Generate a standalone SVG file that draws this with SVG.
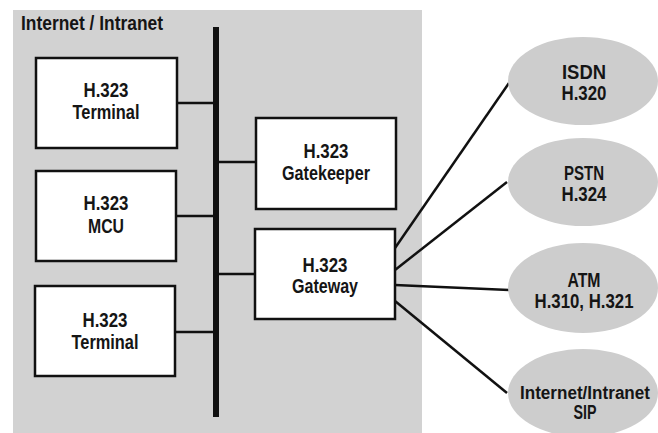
<svg xmlns="http://www.w3.org/2000/svg" width="658" height="433" viewBox="0 0 658 433">
<style>
text{font-family:"Liberation Sans",Arial,sans-serif;font-weight:bold;font-size:20px;fill:#151515;text-anchor:middle}
.box{fill:#fff;stroke:#111;stroke-width:2.5}
.net{fill:#cdcdcd}
.ln{stroke:#111;stroke-width:2.5;fill:none}
</style>
<rect x="13" y="10" width="409" height="423" fill="#d2d2d2"/>
<text x="21" y="30" style="text-anchor:start" textLength="142" lengthAdjust="spacingAndGlyphs">Internet / Intranet</text>
<g id="connectors">
<line class="ln" x1="216" y1="27" x2="216" y2="417" style="stroke-width:6"/>
<line class="ln" x1="177" y1="103" x2="216" y2="103"/>
<line class="ln" x1="176" y1="216" x2="216" y2="216"/>
<line class="ln" x1="175" y1="332" x2="216" y2="332"/>
<line class="ln" x1="216" y1="162" x2="256" y2="162"/>
<line class="ln" x1="216" y1="274" x2="255" y2="274"/>
<line class="ln" x1="395" y1="248" x2="509" y2="83"/>
<line class="ln" x1="395" y1="270" x2="507" y2="182"/>
<line class="ln" x1="395" y1="285" x2="509" y2="290"/>
<line class="ln" x1="395" y1="301" x2="507" y2="393"/>
</g>
<g id="terminal1"><rect class="box" x="36" y="58" width="141" height="90"/><text x="106" y="97" textLength="45" lengthAdjust="spacingAndGlyphs">H.323</text><text x="106" y="119" textLength="67" lengthAdjust="spacingAndGlyphs">Terminal</text></g>
<g id="mcu"><rect class="box" x="36" y="171" width="140" height="90"/><text x="106" y="210" textLength="45" lengthAdjust="spacingAndGlyphs">H.323</text><text x="106" y="233" textLength="36" lengthAdjust="spacingAndGlyphs">MCU</text></g>
<g id="terminal2"><rect class="box" x="35" y="286" width="140" height="90"/><text x="105" y="327" textLength="45" lengthAdjust="spacingAndGlyphs">H.323</text><text x="105" y="349" textLength="67" lengthAdjust="spacingAndGlyphs">Terminal</text></g>
<g id="gatekeeper"><rect class="box" x="256" y="118" width="140" height="91"/><text x="326" y="158" textLength="45" lengthAdjust="spacingAndGlyphs">H.323</text><text x="326" y="180" textLength="88" lengthAdjust="spacingAndGlyphs">Gatekeeper</text></g>
<g id="gateway"><rect class="box" x="255" y="229" width="140" height="90"/><text x="325" y="272" textLength="45" lengthAdjust="spacingAndGlyphs">H.323</text><text x="325" y="293" textLength="66" lengthAdjust="spacingAndGlyphs">Gateway</text></g>
<g id="isdn"><ellipse class="net" cx="583" cy="81" rx="75" ry="44"/><text x="584" y="79" textLength="44" lengthAdjust="spacingAndGlyphs">ISDN</text><text x="584" y="100" textLength="45" lengthAdjust="spacingAndGlyphs">H.320</text></g>
<g id="pstn"><ellipse class="net" cx="583" cy="182" rx="75" ry="44"/><text x="584" y="180" textLength="40" lengthAdjust="spacingAndGlyphs">PSTN</text><text x="584" y="201" textLength="45" lengthAdjust="spacingAndGlyphs">H.324</text></g>
<g id="atm"><ellipse class="net" cx="583" cy="288" rx="75" ry="45"/><text x="584" y="287" textLength="33" lengthAdjust="spacingAndGlyphs">ATM</text><text x="584" y="308" textLength="99" lengthAdjust="spacingAndGlyphs">H.310, H.321</text></g>
<g id="sip"><ellipse class="net" cx="583" cy="393" rx="75" ry="44"/><text x="585" y="399" style="font-size:17.5px" textLength="130" lengthAdjust="spacingAndGlyphs">Internet/Intranet</text><text x="585" y="419" textLength="23" lengthAdjust="spacingAndGlyphs">SIP</text></g>
</svg>
